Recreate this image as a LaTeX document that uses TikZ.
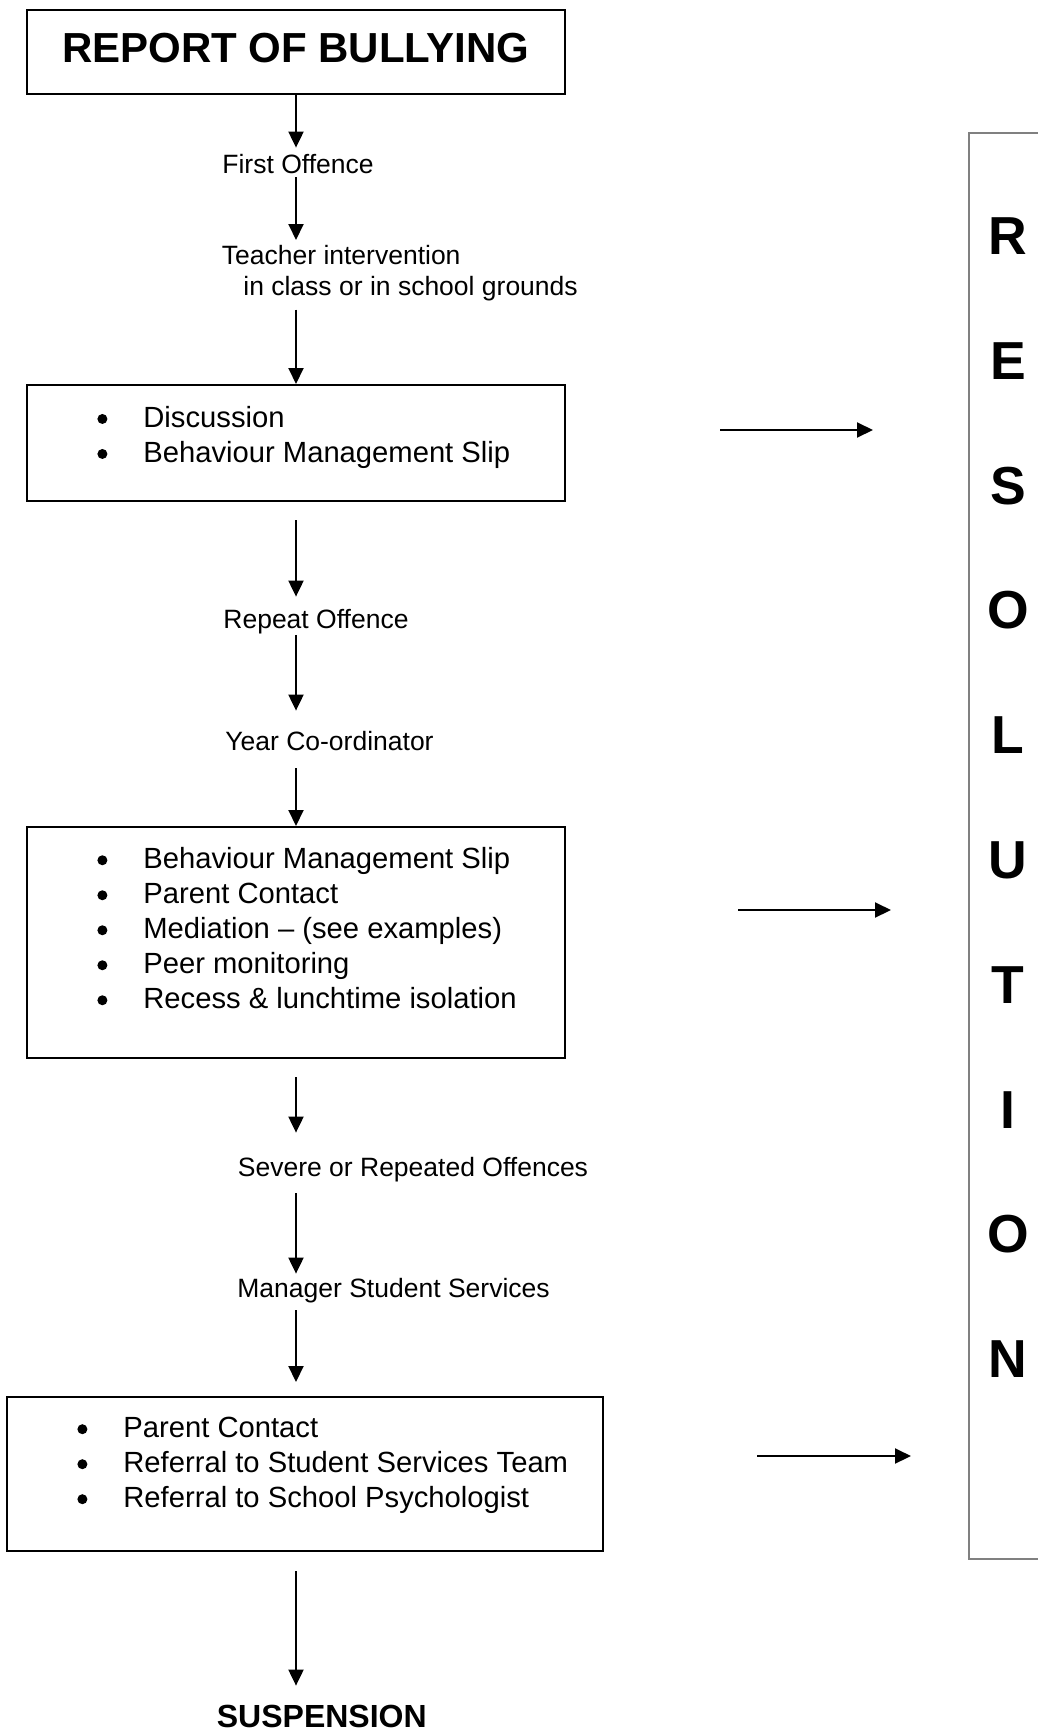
\documentclass[tikz,border=0pt]{standalone}
\usepackage{fontspec}
\setmainfont{Liberation Sans}
\usetikzlibrary{arrows.meta}

\tikzset{
  stepbox/.style={draw,line width=1pt,inner sep=0pt},
  tag/.style={anchor=base west,inner sep=0pt,text height=9.5pt,text depth=0pt,
    font=\fontsize{13.25}{15.5}\selectfont},
  items/.style={anchor=north west,inner sep=0pt,align=left,
    font=\fontsize{14.6}{17.5}\selectfont},
  flow/.style={-{Triangle[length=8pt,width=7.5pt]},line width=1pt}
}
\newcommand{\itm}[1]{\makebox[23pt][l]{\raisebox{1.65pt}{\tikz\fill (0,0) circle (2.5pt);}}#1}

\begin{document}
\begin{tikzpicture}[x=0.5pt,y=-0.5pt]
  \useasboundingbox (0,0) rectangle (1038,1734);
  \coordinate (spine) at (296,0);

  % left column
  \node [stepbox,minimum width=269.25pt,minimum height=42pt,text depth=4.5pt,
    font=\fontsize{21}{25}\selectfont\bfseries] (report) at (295.75,52) {REPORT OF BULLYING};
  \node [tag] (first) at (222,173.5) {First Offence};
  \node [anchor=north west,inner sep=0pt,align=left,font=\fontsize{13.25}{15.5}\selectfont]
    (teacher) at (221.5,245.2) {Teacher intervention\\\hspace*{10.75pt}in class or in school grounds};

  \node [stepbox,minimum width=269.25pt,minimum height=58pt] (talk) at (295.75,443) {};
  \node [items] (talklist) at (97,405.7) {\itm{Discussion}\\\itm{Behaviour Management Slip}};

  \node [tag] (repeat) at (223,628.5) {Repeat Offence};
  \node [tag] (year) at (225,750) {Year Co-ordinator};

  \node [stepbox,minimum width=269.25pt,minimum height=115.5pt] (mediate) at (295.75,942.5) {};
  \node [items] (mediatelist) at (97,847) {\itm{Behaviour Management Slip}\\
    \itm{Parent Contact}\\\itm{Mediation -- (see examples)}\\
    \itm{Peer monitoring}\\\itm{Recess \& lunchtime isolation}};

  \node [tag] (severe) at (237.5,1176.5) {Severe or Repeated Offences};
  \node [tag] (manager) at (237,1297.5) {Manager Student Services};

  \node [stepbox,minimum width=298pt,minimum height=77pt] (refer) at (304.6,1474) {};
  \node [items] (referlist) at (77,1416.7) {\itm{Parent Contact}\\
    \itm{Referral to Student Services Team}\\\itm{Referral to School Psychologist}};

  \node [tag,text height=11.5pt,font=\fontsize{16}{19}\selectfont\bfseries]
    (suspension) at (216.5,1727.4) {SUSPENSION};

  % down the spine
  \draw [flow,shorten >=3.25pt] (report.south -| spine) -- (first.north -| spine);
  \draw [flow,shorten <=1.75pt,shorten >=2.6pt] (first.south -| spine) -- (teacher.north -| spine);
  \draw [flow,shorten <=4pt] (teacher.south -| spine) -- (talk.north -| spine);
  \draw [flow,shorten <=9pt,shorten >=6.25pt] (talk.south -| spine) -- (repeat.north -| spine);
  \draw [flow,shorten <=3pt,shorten >=10pt] (repeat.south -| spine) -- (year.north -| spine);
  \draw [flow,shorten <=9pt] (year.south -| spine) -- (mediate.north -| spine);
  \draw [flow,shorten <=9pt,shorten >=12.25pt] (mediate.south -| spine) -- (severe.north -| spine);
  \draw [flow,shorten <=8.25pt,shorten >=2.25pt] (severe.south -| spine) -- (manager.north -| spine);
  \draw [flow,shorten <=6.25pt,shorten >=7pt] (manager.south -| spine) -- (refer.north -| spine);
  \draw [flow,shorten <=9.5pt,shorten >=9.2pt] (refer.south -| spine) -- (suspension.north -| spine);

  % resolution column
  \draw [gray,line width=0.75pt] (1045,133) -- (969,133) -- (969,1559) -- (1045,1559);
  \node [anchor=north,inner sep=0pt,align=center,font=\fontsize{26.75}{62.4}\selectfont\bfseries]
    (resolution) at (1008,217.3) {R\\E\\S\\O\\L\\U\\T\\I\\O\\N};

  \coordinate (talkout) at (720,430);
  \coordinate (talkin) at (873,430);
  \coordinate (mediateout) at (738,910);
  \coordinate (mediatein) at (891,910);
  \coordinate (referout) at (757,1456);
  \coordinate (referin) at (911,1456);
  \draw [flow] (talkout) -- (talkin);
  \draw [flow] (mediateout) -- (mediatein);
  \draw [flow] (referout) -- (referin);
\end{tikzpicture}
\end{document}
